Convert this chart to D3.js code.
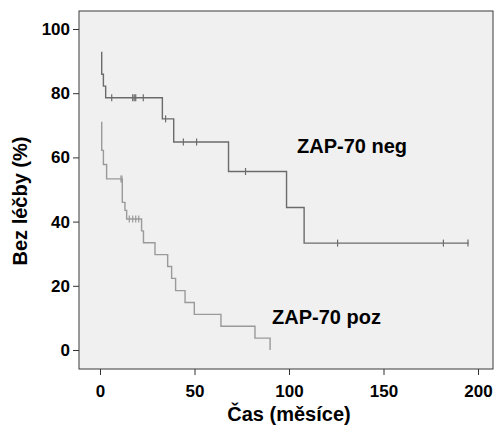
<!DOCTYPE html>
<html>
<head>
<meta charset="utf-8">
<script src="https://cdn.jsdelivr.net/npm/d3@7"></script>
<style>
  body { margin: 0; background: #fff; }
  svg text { font-family: "Liberation Sans", Arial, sans-serif; font-weight: bold; fill: #000; }
  .tick text { font-size: 17px; }
  .tick line { stroke: #333; }
</style>
</head>
<body>
<div id="chart"></div>
<script>
// ZAP-70 neg: step points (time in months, % without treatment)
const negTime = [0.9, 0.9, 1.8, 3, 33, 39, 68, 98.7, 108, 195];
const negSurv = [92.9, 85.9, 82.2, 78.6, 72.0, 64.8, 55.6, 44.4, 33.3, 33.3];
const negCensor = [6.2, 17.3, 18.1, 18.9, 22.9, 34.7, 44.1, 51.1, 77, 125.7, 181.7, 194.7];

// ZAP-70 poz
const pozTime = [0.9, 0.9, 1.8, 3.5, 11.8, 13.2, 14.1, 22, 23, 29.1, 35.8, 37.9, 40, 45, 49.9, 64, 82, 90];
const pozSurv = [71.1, 62.2, 57.8, 53.3, 46.0, 43.5, 40.8, 37.1, 33.4, 29.7, 26.0, 22.3, 18.5, 14.8, 11.1, 7.4, 3.7, 0];
const pozCensor = [11.1, 11.6, 15.5, 17.3, 18.9, 20.5];

const xTicks = [0, 50, 100, 150, 200];
const yTicks = [0, 20, 40, 60, 80, 100];

const WIDTH = 496, HEIGHT = 428;
const FRAME = { LEFT: 79, RIGHT: 493, TOP: 11, BOTTOM: 369 };

const svg = d3.select("#chart")
  .append("svg")
    .attr("width", WIDTH)
    .attr("height", HEIGHT);

const x = d3.scaleLinear().domain([0, 200]).range([100, 478]);
const y = d3.scaleLinear().domain([0, 100]).range([350, 29]);

// plot background + frame
svg.append("rect")
  .attr("x", FRAME.LEFT)
  .attr("y", FRAME.TOP)
  .attr("width", FRAME.RIGHT - FRAME.LEFT)
  .attr("height", FRAME.BOTTOM - FRAME.TOP)
  .attr("fill", "#f0f0f0")
  .attr("stroke", "#3a3a3a")
  .attr("stroke-width", 1);

// axes
const yAxis = svg.append("g")
  .attr("transform", `translate(${FRAME.LEFT}, 0)`)
  .call(d3.axisLeft(y).tickValues(yTicks).tickSize(6).tickPadding(3));
yAxis.select(".domain").remove();

const xAxis = svg.append("g")
  .attr("transform", `translate(0, ${FRAME.BOTTOM})`)
  .call(d3.axisBottom(x).tickValues(xTicks).tickSize(6).tickPadding(10));
xAxis.select(".domain").remove();

// axis titles
svg.append("text")
  .attr("x", x(100))
  .attr("y", 421)
  .attr("text-anchor", "middle")
  .style("font-size", "20px")
  .text("Čas (měsíce)");

svg.append("text")
  .attr("transform", "translate(27, 201) rotate(-90)")
  .attr("text-anchor", "middle")
  .style("font-size", "20px")
  .text("Bez léčby (%)");

// survival curves
const line = d3.line()
  .x(d => x(d[0]))
  .y(d => y(d[1]))
  .curve(d3.curveStepAfter);

// survival value at time t for censor marks
function survAt(times, surv, t) {
  let s = surv[0];
  for (let i = 0; i < times.length; i++) {
    if (times[i] <= t) s = surv[i];
  }
  return s;
}

const curves = [
  { time: negTime, surv: negSurv, censor: negCensor, color: "#6b6b6b" },
  { time: pozTime, surv: pozSurv, censor: pozCensor, color: "#9a9a9a" }
];

curves.forEach(c => {
  svg.append("path")
    .datum(d3.zip(c.time, c.surv))
    .attr("d", line)
    .attr("fill", "none")
    .attr("stroke", c.color)
    .attr("stroke-width", 1.4);

  svg.selectAll(null)
    .data(c.censor)
    .enter()
    .append("line")
      .attr("x1", d => x(d))
      .attr("x2", d => x(d))
      .attr("y1", d => y(survAt(c.time, c.surv, d)) - 3.5)
      .attr("y2", d => y(survAt(c.time, c.surv, d)) + 3.5)
      .attr("stroke", c.color)
      .attr("stroke-width", 1.2);
});

// group labels
svg.append("text")
  .attr("x", 297)
  .attr("y", 153)
  .style("font-size", "20px")
  .text("ZAP-70 neg");

svg.append("text")
  .attr("x", 272)
  .attr("y", 324)
  .style("font-size", "20px")
  .text("ZAP-70 poz");
</script>
</body>
</html>
